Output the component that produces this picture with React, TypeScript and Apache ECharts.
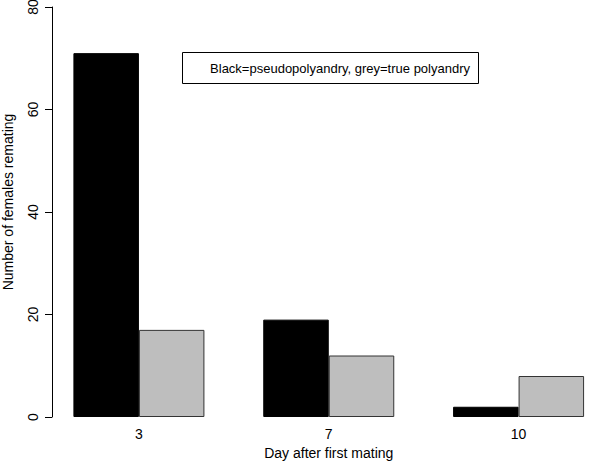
import React, { useEffect, useRef } from "react";
import * as echarts from "echarts";

const days = ["3", "7", "10"];
const pseudoPolyandry = [71, 19, 2];
const truePolyandry = [17, 12, 8];
const yTicks = [0, 20, 40, 60, 80];
const legendText = "Black=pseudopolyandry, grey=true polyandry";
const xTitle = "Day after first mating";
const yTitle = "Number of females remating";

const FONT = "'Liberation Sans', Arial, Helvetica, sans-serif";

export default function App() {
  const ref = useRef<HTMLDivElement>(null);
  useEffect(() => {
    if (!ref.current) return;
    const chart = echarts.init(ref.current, null, { renderer: "svg" });
    chart.setOption({
      animation: false,
      backgroundColor: "#ffffff",
      textStyle: { fontFamily: FONT },
      grid: {
        left: 44,
        top: 7,
        width: 569.5,
        bottom: 44,
        containLabel: false,
        outerBoundsMode: "none",
      },
      xAxis: {
        type: "category",
        data: days,
        axisLine: { show: false },
        axisTick: { show: false },
        axisLabel: { margin: 10, fontSize: 14, color: "#000", fontFamily: FONT },
        name: xTitle,
        nameLocation: "middle",
        nameGap: 27,
        nameTextStyle: { fontSize: 14, color: "#000", fontFamily: FONT },
      },
      yAxis: {
        type: "value",
        min: yTicks[0],
        max: yTicks[yTicks.length - 1],
        interval: 20,
        offset: -8,
        splitLine: { show: false },
        axisLine: { show: true, lineStyle: { color: "#000", width: 1 } },
        axisTick: { show: true, length: 7, lineStyle: { color: "#000" } },
        axisLabel: { rotate: 90, margin: 12, fontSize: 14, color: "#000", fontFamily: FONT },
      },
      series: [
        {
          name: "pseudopolyandry",
          type: "bar",
          data: pseudoPolyandry,
          barWidth: 65.5,
          barGap: "0%",
          itemStyle: { color: "#000000", borderColor: "#000000", borderWidth: 1 },
        },
        {
          name: "true polyandry",
          type: "bar",
          data: truePolyandry,
          barWidth: 65.5,
          barGap: "0%",
          itemStyle: { color: "#bebebe", borderColor: "#333333", borderWidth: 1 },
        },
      ],
      graphic: [
        {
          type: "text",
          x: 8,
          y: 202,
          rotation: Math.PI / 2,
          style: {
            text: yTitle,
            fontSize: 14,
            fontFamily: FONT,
            fill: "#000",
            align: "center",
            verticalAlign: "middle",
          },
        },
        {
          type: "rect",
          shape: { x: 182.5, y: 52.5, width: 296, height: 31 },
          style: { fill: "#fff", stroke: "#000", lineWidth: 1 },
        },
        {
          type: "text",
          x: 470,
          y: 68,
          style: {
            text: legendText,
            fontSize: 13,
            fontFamily: FONT,
            fill: "#000",
            align: "right",
            verticalAlign: "middle",
          },
        },
      ],
    });
    return () => chart.dispose();
  }, []);
  return (
    <div
      ref={ref}
      style={{ position: "fixed", left: 0, top: 0, width: 600, height: 461 }}
    />
  );
}
